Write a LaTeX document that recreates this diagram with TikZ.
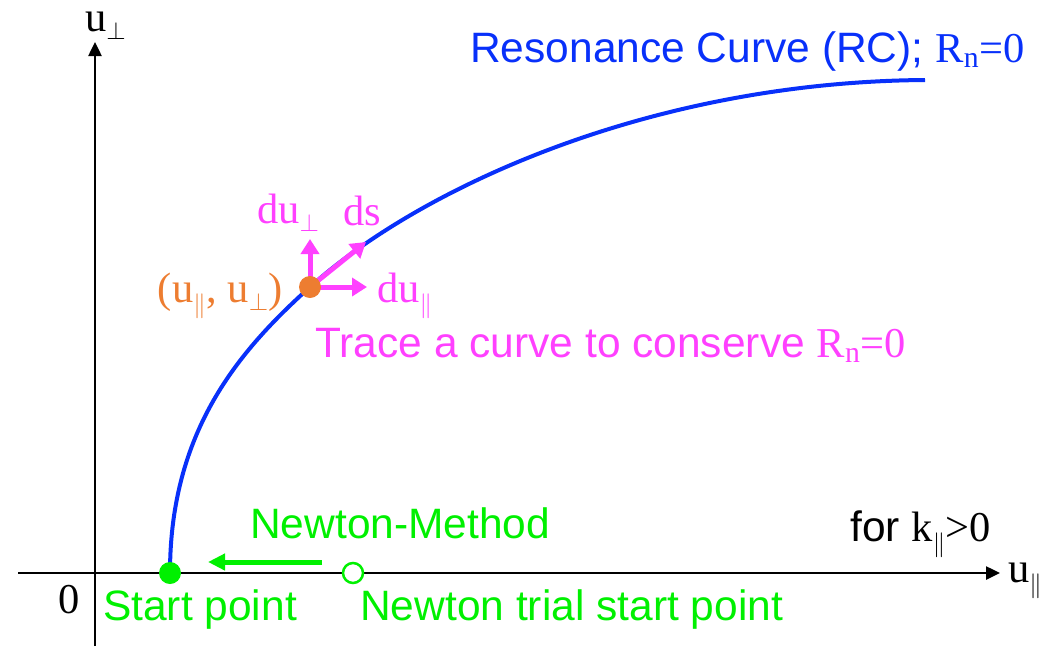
\documentclass[tikz,border=0pt]{standalone}
\usepackage{fontspec}
\setmainfont{Liberation Sans}
\newfontfamily\tms{Liberation Serif}
\usepackage{tikz}
\usetikzlibrary{arrows.meta,positioning}

\definecolor{rcblue}{RGB}{8,48,250}
\definecolor{trmag}{RGB}{255,64,255}
\definecolor{nwgreen}{RGB}{0,240,0}
\definecolor{ptorange}{RGB}{237,125,49}

\newcommand{\upl}{{\tms u\textsubscript{$\parallel$}}}
\newcommand{\upp}{{\tms u$_{\perp}$}}

\begin{document}
\begin{tikzpicture}[
          x=1pt, y=-1pt,
          txt/.style={font=\fontsize{42.5}{48}\selectfont, inner sep=0pt},
          axis/.style={line width=2.5pt, -{Triangle[length=14pt, width=13pt]}},
          marr/.style={trmag, line width=5pt, -{Triangle[length=15pt, width=18pt]}},
          garr/.style={nwgreen, line width=5pt, -{Triangle[length=17pt, width=16pt]}},
          dot/.style={circle, inner sep=0pt, minimum size=22pt}
      ]
        \useasboundingbox (0,0) rectangle (1045,646);
        % axes
        \coordinate (xl) at (18,573);
        \coordinate (xr) at (1000,573);
        \coordinate (yb) at (95,646);
        \coordinate (yt) at (95,42);
        \draw[axis] (xl) -- (xr);
        \draw[axis] (yb) -- (yt);
        \node[txt, anchor=base west] (ulab) at (1008,582) {\upl};
        \node[txt, anchor=base west] (plab) at (85,31) {\upp};
        \node[txt, anchor=base east] (zero) at (80,613) {\tms 0};
        % resonance curve
        \coordinate (sp) at (170,573);
        \coordinate (cp) at (310,287);
        \coordinate (ce) at (925,80);
        \draw[rcblue, line width=4pt] (sp) .. controls (170,430) and (240,350) .. (cp)
              .. controls (420,188) and (650,82) .. (ce);
        \node[txt, rcblue, anchor=base west] (rc) at (470,62) {Resonance Curve (RC); {\tms R\textsubscript{n}=0}};
        % tangent step
        \coordinate (dup) at (310,239);
        \coordinate (dul) at (367,287);
        \coordinate (dst) at (366,242);
        \draw[marr] (cp) -- (dup);
        \draw[marr] (cp) -- (dul);
        \draw[marr] (cp) -- (dst);
        \node[dot, fill=ptorange] (pt) at (cp) {};
        \node[txt, trmag, anchor=base west] (duplab) at (257,223) {{\tms d}\upp};
        \node[txt, trmag, anchor=base west] (dslab) at (343,225) {\tms ds};
        \node[txt, trmag, anchor=base west] (dullab) at (377,302) {{\tms d}\upl};
        \node[txt, ptorange, anchor=base east] (ptlab) at (283,302) {\tms (\upl, \upp)};
        \node[txt, trmag, anchor=base west] (trace) at (315,357) {Trace a curve to conserve {\tms R\textsubscript{n}=0}};
        % newton method
        \node[dot, fill=nwgreen] (start) at (sp) {};
        \node[dot, draw=nwgreen, line width=2.5pt, fill=white, minimum size=20pt] (trial) at (353,573) {};
        \coordinate (nm1) at (322,562);
        \coordinate (nm2) at (208,562);
        \draw[garr] (nm1) -- (nm2);
        \node[txt, nwgreen, anchor=base west] (nmlab) at (250,538) {Newton-Method};
        \node[txt, anchor=base west] (kcond) at (850,541) {for {\tms k\textsubscript{$\parallel$}>0}};
        \node[txt, nwgreen, anchor=base west] (splab) at (103,620) {Start point};
        \node[txt, nwgreen, anchor=base west] (trlab) at (360,620) {Newton trial start point};
      \end{tikzpicture}
\end{document}
